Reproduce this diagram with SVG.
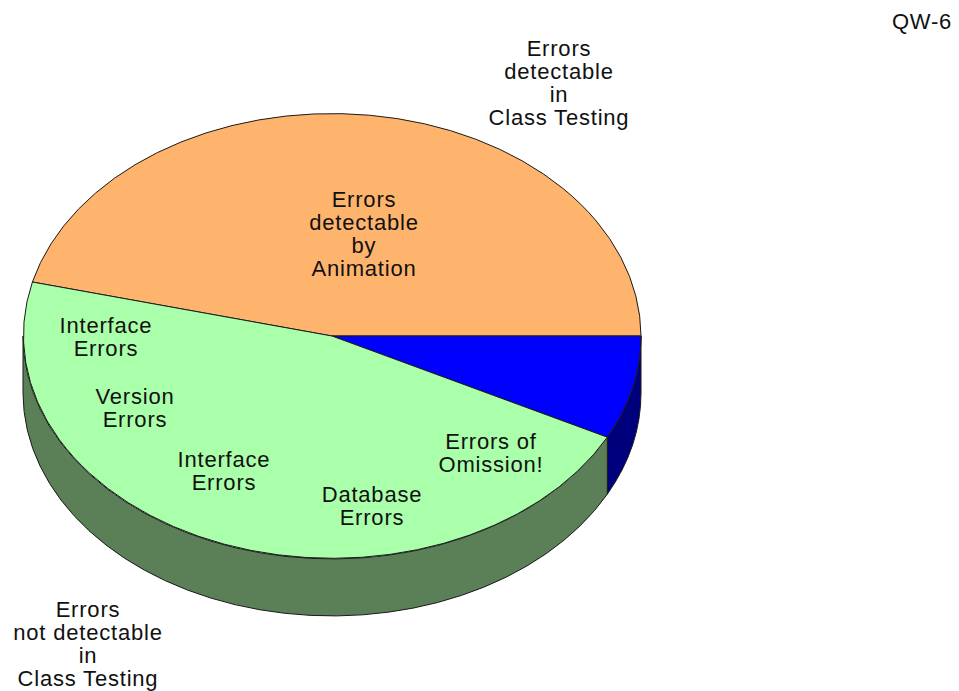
<svg xmlns="http://www.w3.org/2000/svg" width="959" height="691" viewBox="0 0 959 691">
  <style>
    .t { font-family: "Liberation Sans", Arial, sans-serif; font-size: 22px; letter-spacing: 0.8px; fill: #111; text-anchor: middle; }
    .edge { stroke: #1a1a1a; stroke-width: 1; stroke-linejoin: round; }
  </style>
  <rect width="959" height="691" fill="#ffffff"/>
  <g id="pie">
    <g id="sides">
      <path class="edge" fill="#00007c" d="M641,336 A309,223 0 0 1 607.3,437.2 L607.3,494.2 A309,223 0 0 0 641,393 Z"/>
      <path class="edge" fill="#5b8058" d="M607.3,437.2 A309,223 0 0 1 23,336 L23,393 A309,223 0 0 0 607.3,494.2 Z"/>
    </g>
    <g id="slice-animation">
      <path class="edge" fill="#ffb46e" d="M332,336 L641,336 A309,223 0 0 0 32.4,282 Z"/>
    </g>
    <g id="slice-omission">
      <path class="edge" fill="#0000ff" d="M332,336 L641,336 A309,223 0 0 1 607.3,437.2 Z"/>
    </g>
    <g id="slice-not-detectable">
      <path class="edge" fill="#aaffaa" d="M332,336 L607.3,437.2 A309,223 0 0 1 32.4,282 Z"/>
    </g>
  </g>
  <g id="labels">
    <text class="t" x="922" y="29" font-size="21">QW-6</text>
    <g id="label-class-testing">
      <text class="t" x="559" y="56">Errors</text>
      <text class="t" x="559" y="79">detectable</text>
      <text class="t" x="559" y="102">in</text>
      <text class="t" x="559" y="125">Class Testing</text>
    </g>
    <g id="label-animation">
      <text class="t" x="364" y="207">Errors</text>
      <text class="t" x="364" y="230">detectable</text>
      <text class="t" x="364" y="253">by</text>
      <text class="t" x="364" y="276">Animation</text>
    </g>
    <g id="label-interface1">
      <text class="t" x="106" y="333">Interface</text>
      <text class="t" x="106" y="356">Errors</text>
    </g>
    <g id="label-version">
      <text class="t" x="135" y="404">Version</text>
      <text class="t" x="135" y="427">Errors</text>
    </g>
    <g id="label-interface2">
      <text class="t" x="224" y="467">Interface</text>
      <text class="t" x="224" y="490">Errors</text>
    </g>
    <g id="label-omission">
      <text class="t" x="491" y="449">Errors of</text>
      <text class="t" x="491" y="472">Omission!</text>
    </g>
    <g id="label-database">
      <text class="t" x="372" y="502">Database</text>
      <text class="t" x="372" y="525">Errors</text>
    </g>
    <g id="label-not-detectable">
      <text class="t" x="88" y="617">Errors</text>
      <text class="t" x="88" y="640">not detectable</text>
      <text class="t" x="88" y="663">in</text>
      <text class="t" x="88" y="686">Class Testing</text>
    </g>
  </g>
</svg>
